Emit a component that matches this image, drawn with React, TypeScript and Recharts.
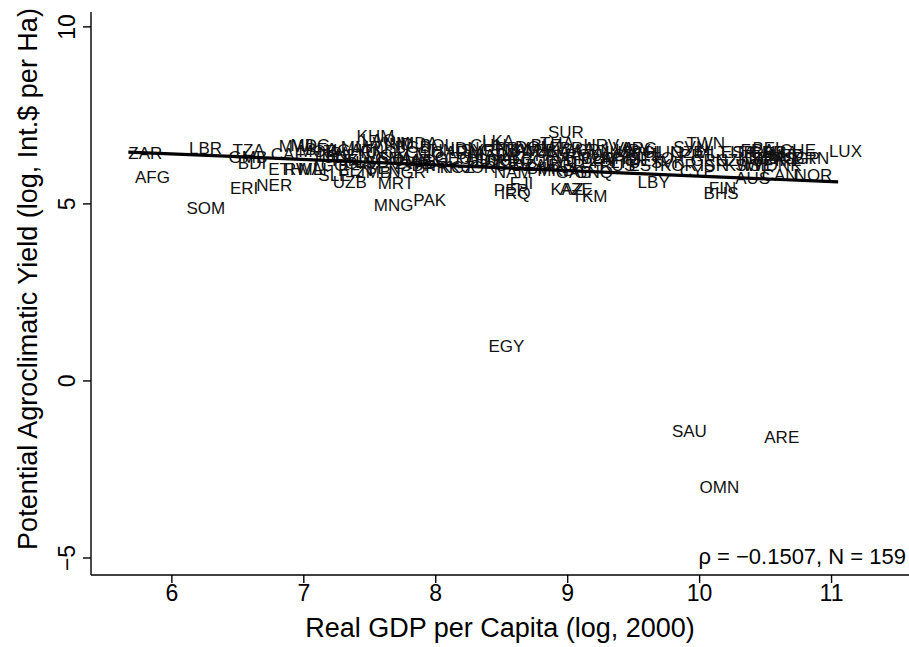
import React from 'react';
import { ScatterChart, Scatter, XAxis, YAxis } from 'recharts';

const codes = ['ZAR','AFG','SOM','LBR','ERI','TZA','GMB','BDI','NER','ETH','CAF','RWA','MWI','MDG','MLI','MOZ','BFA','TCD','NPL','TGO','SLE','UGA','KEN','BEN','UZB','TJK','GIN','KHM','LAO','HTI','VNM','IND','MRT','MNG','NGR','GHA','SEN','CMR','ZMB','SDN','PAK','BGD','KGZ','PRK','JOR','LKA','SUR','NAM','PER','FJI','IRQ','KAZ','AZE','TKM','GNQ','GAB','HRV','LBY','CYP','TWN','BHS','FIN','USA','BRN','LUX','NOR','CAN','AUS','EGY','SAU','ARE','OMN','NIC','HND','BOL','CIV','COG','LSO','ZWE','AGO','PNG','MMR','YEM','MDA','ARM','GEO','IDN','PHL','SYR','MAR','GTM','ECU','SLV','PRY','CHN','UKR','ALB','JAM','DOM','TUN','COL','BLZ','PAN','THA','IRN','DZA','BWA','VEN','BRA','ROU','TUR','CRI','BLR','BGR','MKD','BIH','ZAF','RUS','MUS','MYS','LVA','CHL','URY','ARG','LTU','MEX','EST','POL','TTO','HUN','SVK','KOR','CZE','SVN','PRT','GRC','MLT','ISR','NZL','ESP','KWT','ITA','SWE','FRA','DEU','GBR','BEL','JPN','AUT','DNK','NLD','ISL','IRL','CHE','HKG','SGP','SWZ','CPV','GUY'];

const gdpLog = [5.67,5.72,6.11,6.13,6.44,6.46,6.43,6.50,6.64,6.73,6.75,6.85,6.81,6.90,6.96,6.96,7.01,7.06,7.11,7.05,7.11,7.16,7.24,7.26,7.22,7.19,7.31,7.40,7.44,7.35,7.52,7.61,7.56,7.53,7.64,7.54,7.47,7.67,7.39,7.73,7.83,7.69,8.03,7.92,8.20,8.35,8.85,8.44,8.44,8.56,8.49,8.87,8.94,9.03,9.05,8.91,9.12,9.53,9.85,9.90,10.03,10.07,10.48,10.71,10.98,10.72,10.47,10.27,8.40,9.79,10.49,10.00,7.84,7.96,7.88,7.58,7.77,7.39,7.69,7.81,7.43,7.28,7.47,7.73,8.07,7.99,8.11,8.15,8.19,8.26,8.34,8.30,8.41,8.45,8.26,8.37,8.49,8.53,8.60,8.68,8.64,8.72,8.75,8.79,8.83,8.58,8.83,8.90,8.94,8.98,9.02,9.06,9.10,8.85,8.77,8.69,9.17,9.24,9.21,9.28,9.28,9.34,9.36,9.40,9.32,9.44,9.46,9.48,9.55,9.59,9.63,9.70,9.78,9.80,9.85,9.93,9.97,10.00,10.12,10.16,10.19,10.23,10.27,10.31,10.34,10.37,10.40,10.42,10.46,10.50,10.53,10.34,10.57,10.61,10.31,10.64,8.56,8.45,8.23];

const yieldLog = [6.44,5.76,4.88,6.58,5.45,6.52,6.32,6.15,5.53,5.99,6.41,5.99,6.63,6.66,5.99,6.49,6.55,6.32,6.44,6.10,5.82,6.52,6.38,5.96,5.62,6.24,6.15,6.92,6.80,6.52,6.72,6.69,5.59,4.97,5.90,6.30,6.01,6.24,5.90,6.10,5.11,6.61,6.04,6.04,6.04,6.78,7.03,5.90,5.39,5.59,5.31,5.42,5.42,5.22,5.90,5.90,6.66,5.62,5.93,6.72,5.31,5.45,6.47,6.30,6.49,5.82,5.82,5.73,0.99,-1.42,-1.59,-3.00,6.38,6.52,6.66,6.38,6.47,6.18,6.15,6.24,6.47,6.61,6.30,6.72,6.47,6.30,6.58,6.30,6.52,6.38,6.52,6.24,6.38,6.58,6.66,6.18,6.30,6.52,6.61,6.47,6.24,6.66,6.38,6.72,6.18,6.10,6.52,6.30,6.58,6.38,6.18,6.52,6.30,6.10,5.96,6.01,6.24,6.10,6.47,6.30,6.58,6.38,6.52,6.58,6.18,6.24,6.10,6.47,6.30,6.47,6.18,6.10,6.47,6.60,6.38,6.24,6.47,6.10,6.24,6.47,6.10,6.47,6.10,6.52,6.30,6.47,6.58,6.24,6.38,6.10,6.38,6.10,6.24,6.52,6.30,6.30,6.52,6.10,6.24];

const fitX = [5.67, 11.05];
const fitY = [6.465, 5.62];

const xTicks = [6, 7, 8, 9, 10, 11];
const yTicks = [-5, 0, 5, 10];

const xTitle = 'Real GDP per Capita (log, 2000)';
const yTitle = 'Potential Agroclimatic Yield (log, Int.$ per Ha)';
const statText = 'ρ = −0.1507, N = 159';

const points = codes.map((c, i) => ({ x: gdpLog[i], y: yieldLog[i], code: c }));
const fitData = fitX.map((x, i) => ({ x, y: fitY[i] }));

const FONT = '"Liberation Sans", Arial, Helvetica, sans-serif';

const LabelShape = (props: any) => {
  const { cx, cy, payload } = props;
  return (
    <text x={cx} y={cy} dy="0.36em" fontSize={17} fontFamily={FONT} fill="#111">
      {payload.code}
    </text>
  );
};

const NoShape = () => <g />;

const YTick = (props: any) => {
  const { y, payload } = props;
  const v = payload.value;
  const s = v < 0 ? '−' + Math.abs(v) : String(v);
  return (
    <text transform={`translate(75, ${y}) rotate(-90)`} textAnchor="middle" fontSize={23} fontFamily={FONT} fill="#000">
      {s}
    </text>
  );
};

export default function App() {
  return (
    <div style={{ position: 'absolute', left: 0, top: 0, background: '#fff' }}>
      <ScatterChart width={909} height={647} margin={{ top: 12, right: 0, bottom: 0, left: 0 }}>
        <XAxis
          type="number"
          dataKey="x"
          domain={[5.387, 11.587]}
          ticks={xTicks}
          allowDataOverflow
          tickSize={8}
          tickMargin={2}
          height={72}
          stroke="#000"
          strokeWidth={1.4}
          tick={{ fill: '#000', fontSize: 23, fontFamily: FONT }}
          label={() => (
            <g>
              <text x={500} y={637} textAnchor="middle" fontSize={27} fontFamily={FONT} fill="#000">{xTitle}</text>
              <text x={906} y={564} textAnchor="end" fontSize={22} fontFamily={FONT} fill="#000">{statText}</text>
            </g>
          )}
        />
        <YAxis
          type="number"
          dataKey="y"
          domain={[-5.48, 10.42]}
          ticks={yTicks}
          allowDataOverflow
          tickSize={8}
          width={91}
          stroke="#000"
          strokeWidth={1.4}
          tick={<YTick />}
          label={() => (
            <text transform="translate(37, 279) rotate(-90)" textAnchor="middle" fontSize={27} fontFamily={FONT} fill="#000">{yTitle}</text>
          )}
        />
        <Scatter data={points} shape={<LabelShape />} isAnimationActive={false} />
        <Scatter data={fitData} shape={<NoShape />} line={{ stroke: '#000', strokeWidth: 3.2 }} isAnimationActive={false} />
      </ScatterChart>
    </div>
  );
}
